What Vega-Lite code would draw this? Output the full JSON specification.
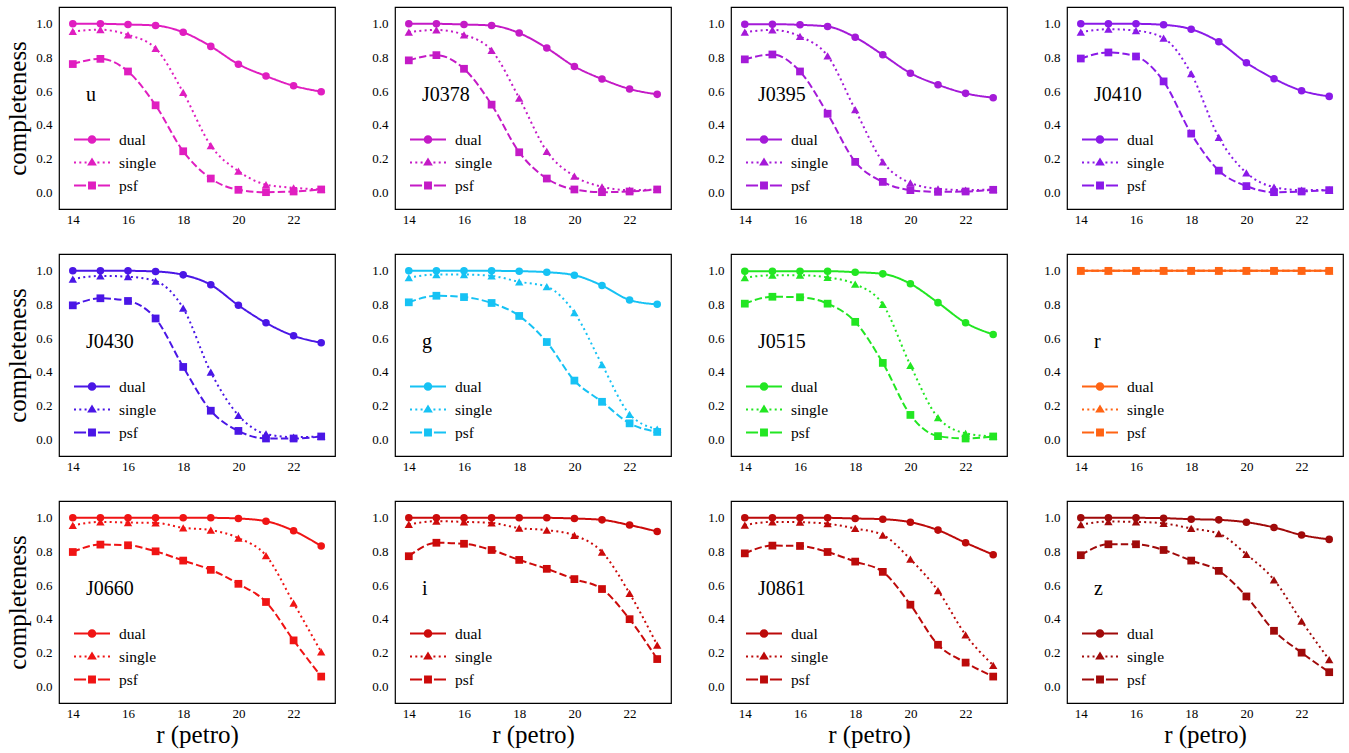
{
  "$schema": "https://vega.github.io/schema/vega-lite/v6.json",
  "padding": {"left": 5, "top": 5, "right": 5, "bottom": 5},
  "background": "white",
  "datasets": {
    "completeness": [
      {"band": "u", "type": "dual", "r": [14,15,16,17,18,19,20,21,22,23], "c": [1.0, 1.0, 0.996, 0.99, 0.95, 0.866, 0.76, 0.69, 0.632, 0.597]},
      {"band": "u", "type": "single", "r": [14,15,16,17,18,19,20,21,22,23], "c": [0.955, 0.965, 0.935, 0.854, 0.593, 0.277, 0.125, 0.045, 0.026, 0.016]},
      {"band": "u", "type": "psf", "r": [14,15,16,17,18,19,20,21,22,23], "c": [0.761, 0.792, 0.717, 0.516, 0.243, 0.081, 0.014, 0.0, 0.004, 0.016]},
      {"band": "J0378", "type": "dual", "r": [14,15,16,17,18,19,20,21,22,23], "c": [1.0, 1.0, 0.996, 0.99, 0.945, 0.856, 0.747, 0.672, 0.613, 0.581]},
      {"band": "J0378", "type": "single", "r": [14,15,16,17,18,19,20,21,22,23], "c": [0.951, 0.964, 0.935, 0.842, 0.559, 0.243, 0.095, 0.032, 0.012, 0.016]},
      {"band": "J0378", "type": "psf", "r": [14,15,16,17,18,19,20,21,22,23], "c": [0.783, 0.814, 0.733, 0.52, 0.237, 0.081, 0.016, 0.0, 0.004, 0.016]},
      {"band": "J0395", "type": "dual", "r": [14,15,16,17,18,19,20,21,22,23], "c": [0.998, 0.998, 0.994, 0.984, 0.92, 0.816, 0.707, 0.638, 0.587, 0.561]},
      {"band": "J0395", "type": "single", "r": [14,15,16,17,18,19,20,21,22,23], "c": [0.951, 0.964, 0.925, 0.81, 0.49, 0.18, 0.055, 0.02, 0.012, 0.016]},
      {"band": "J0395", "type": "psf", "r": [14,15,16,17,18,19,20,21,22,23], "c": [0.789, 0.818, 0.717, 0.466, 0.18, 0.061, 0.012, 0.002, 0.004, 0.014]},
      {"band": "J0410", "type": "dual", "r": [14,15,16,17,18,19,20,21,22,23], "c": [1.0, 1.0, 1.0, 0.994, 0.968, 0.893, 0.769, 0.674, 0.603, 0.569]},
      {"band": "J0410", "type": "single", "r": [14,15,16,17,18,19,20,21,22,23], "c": [0.951, 0.968, 0.96, 0.915, 0.704, 0.326, 0.115, 0.03, 0.012, 0.014]},
      {"band": "J0410", "type": "psf", "r": [14,15,16,17,18,19,20,21,22,23], "c": [0.794, 0.83, 0.806, 0.658, 0.348, 0.128, 0.036, 0.0, 0.004, 0.012]},
      {"band": "J0430", "type": "dual", "r": [14,15,16,17,18,19,20,21,22,23], "c": [1.0, 1.0, 1.0, 0.996, 0.976, 0.917, 0.795, 0.691, 0.614, 0.573]},
      {"band": "J0430", "type": "single", "r": [14,15,16,17,18,19,20,21,22,23], "c": [0.951, 0.97, 0.965, 0.939, 0.778, 0.398, 0.142, 0.031, 0.012, 0.016]},
      {"band": "J0430", "type": "psf", "r": [14,15,16,17,18,19,20,21,22,23], "c": [0.795, 0.837, 0.821, 0.717, 0.429, 0.169, 0.049, 0.004, 0.004, 0.016]},
      {"band": "g", "type": "dual", "r": [14,15,16,17,18,19,20,21,22,23], "c": [1.0, 1.0, 1.0, 1.0, 0.998, 0.992, 0.974, 0.913, 0.827, 0.801]},
      {"band": "g", "type": "single", "r": [14,15,16,17,18,19,20,21,22,23], "c": [0.959, 0.978, 0.978, 0.97, 0.935, 0.906, 0.752, 0.443, 0.148, 0.059]},
      {"band": "g", "type": "psf", "r": [14,15,16,17,18,19,20,21,22,23], "c": [0.813, 0.852, 0.844, 0.809, 0.732, 0.577, 0.348, 0.222, 0.094, 0.043]},
      {"band": "J0515", "type": "dual", "r": [14,15,16,17,18,19,20,21,22,23], "c": [0.998, 0.998, 0.998, 0.998, 0.992, 0.982, 0.923, 0.811, 0.691, 0.622]},
      {"band": "J0515", "type": "single", "r": [14,15,16,17,18,19,20,21,22,23], "c": [0.959, 0.974, 0.974, 0.961, 0.921, 0.801, 0.439, 0.128, 0.035, 0.016]},
      {"band": "J0515", "type": "psf", "r": [14,15,16,17,18,19,20,21,22,23], "c": [0.805, 0.846, 0.843, 0.805, 0.697, 0.453, 0.144, 0.018, 0.004, 0.016]},
      {"band": "r", "type": "dual", "r": [14,15,16,17,18,19,20,21,22,23], "c": [1.0, 1.0, 1.0, 1.0, 1.0, 1.0, 1.0, 1.0, 1.0, 1.0]},
      {"band": "r", "type": "single", "r": [14,15,16,17,18,19,20,21,22,23], "c": [1.0, 1.0, 1.0, 1.0, 1.0, 1.0, 1.0, 1.0, 1.0, 1.0]},
      {"band": "r", "type": "psf", "r": [14,15,16,17,18,19,20,21,22,23], "c": [1.0, 1.0, 1.0, 1.0, 1.0, 1.0, 1.0, 1.0, 1.0, 1.0]},
      {"band": "J0660", "type": "dual", "r": [14,15,16,17,18,19,20,21,22,23], "c": [1.0, 1.0, 1.0, 1.0, 1.0, 1.0, 0.996, 0.98, 0.923, 0.833]},
      {"band": "J0660", "type": "single", "r": [14,15,16,17,18,19,20,21,22,23], "c": [0.955, 0.976, 0.972, 0.97, 0.941, 0.927, 0.88, 0.776, 0.494, 0.203]},
      {"band": "J0660", "type": "psf", "r": [14,15,16,17,18,19,20,21,22,23], "c": [0.797, 0.841, 0.837, 0.801, 0.746, 0.691, 0.608, 0.5, 0.272, 0.057]},
      {"band": "i", "type": "dual", "r": [14,15,16,17,18,19,20,21,22,23], "c": [1.0, 1.0, 1.0, 1.0, 1.0, 1.0, 0.996, 0.988, 0.957, 0.919]},
      {"band": "i", "type": "single", "r": [14,15,16,17,18,19,20,21,22,23], "c": [0.961, 0.98, 0.976, 0.97, 0.939, 0.927, 0.896, 0.797, 0.551, 0.244]},
      {"band": "i", "type": "psf", "r": [14,15,16,17,18,19,20,21,22,23], "c": [0.772, 0.852, 0.846, 0.809, 0.75, 0.697, 0.636, 0.577, 0.398, 0.161]},
      {"band": "J0861", "type": "dual", "r": [14,15,16,17,18,19,20,21,22,23], "c": [1.0, 1.0, 1.0, 1.0, 0.996, 0.992, 0.974, 0.927, 0.852, 0.781]},
      {"band": "J0861", "type": "single", "r": [14,15,16,17,18,19,20,21,22,23], "c": [0.957, 0.976, 0.974, 0.965, 0.937, 0.898, 0.754, 0.567, 0.305, 0.124]},
      {"band": "J0861", "type": "psf", "r": [14,15,16,17,18,19,20,21,22,23], "c": [0.789, 0.835, 0.833, 0.797, 0.74, 0.679, 0.484, 0.246, 0.14, 0.057]},
      {"band": "z", "type": "dual", "r": [14,15,16,17,18,19,20,21,22,23], "c": [1.0, 1.0, 1.0, 0.998, 0.992, 0.988, 0.974, 0.943, 0.898, 0.872]},
      {"band": "z", "type": "single", "r": [14,15,16,17,18,19,20,21,22,23], "c": [0.959, 0.978, 0.976, 0.967, 0.937, 0.906, 0.783, 0.632, 0.386, 0.157]},
      {"band": "z", "type": "psf", "r": [14,15,16,17,18,19,20,21,22,23], "c": [0.778, 0.843, 0.843, 0.809, 0.746, 0.685, 0.533, 0.329, 0.199, 0.083]}
    ]
  },
  "data": {"name": "completeness"},
  "spacing": 25,
  "resolve": {"scale": {"strokeDash": "independent", "shape": "independent"}},
  "vconcat": [
    {
      "spacing": 31,
      "resolve": {"scale": {"strokeDash": "independent", "shape": "independent"}},
      "hconcat": [
        {"width": 276, "height": 202, "title": "u",
         "transform": [{"filter": "datum.band === 'u'"}, {"flatten": ["r", "c"]}],
         "layer": [
          {"mark": {"type": "line", "color": "#e01ec0", "strokeWidth": 2, "interpolate": "monotone"},
           "encoding": {
            "x": {"field": "r", "type": "quantitative", "scale": {"domain": [13.5, 23.5], "nice": false, "zero": false},
                  "axis": {"orient": "bottom", "title": null, "values": [14,14.5,15,15.5,16,16.5,17,17.5,18,18.5,19,19.5,20,20.5,21,21.5,22,22.5,23], "labelExpr": "datum.value % 2 === 0 ? format(datum.value, 'd') : ''", "encode": {"ticks": {"y2": {"value": {"expr": "datum.value % 2 === 0 ? -6 : -3"}}}}}},
            "y": {"field": "c", "type": "quantitative", "scale": {"domain": [-0.1, 1.1], "nice": false, "zero": false},
                  "axis": {"orient": "left", "title": "completeness", "values": [-0.05,0,0.05,0.1,0.15,0.2,0.25,0.3,0.35,0.4,0.45,0.5,0.55,0.6,0.65,0.7,0.75,0.8,0.85,0.9,0.95,1,1.05], "labelExpr": "abs(datum.value * 5 - round(datum.value * 5)) < 0.001 ? format(datum.value, '.1f') : ''", "encode": {"ticks": {"x2": {"value": {"expr": "abs(datum.value * 5 - round(datum.value * 5)) < 0.001 ? 6 : 3"}}}}}},
            "strokeDash": {"field": "type", "type": "nominal", "scale": {"domain": ["dual", "single", "psf"], "range": [[1, 0], [2, 3.3], [7.4, 3.2]]}, "legend": {"title": null, "symbolFillColor": "#e01ec0", "symbolStrokeColor": "#e01ec0"}}
           }},
          {"mark": {"type": "point", "filled": true, "opacity": 0, "size": 1296, "strokeWidth": 2, "color": "#e01ec0"},
           "encoding": {
            "x": {"field": "r", "type": "quantitative", "axis": null},
            "y": {"field": "c", "type": "quantitative", "axis": null},
            "shape": {"field": "type", "type": "nominal", "scale": {"domain": ["dual", "single", "psf"], "range": ["M-1,-0.056L-0.23,-0.056L-0.23,0.056L-1,0.056ZM0.23,-0.056L1,-0.056L1,0.056L0.23,0.056ZM0.24,0A0.24,0.24,0,1,1,-0.24,0A0.24,0.24,0,1,1,0.24,0Z", "M-1,-0.056L-0.889,-0.056L-0.889,0.056L-1,0.056ZM-0.706,-0.056L-0.595,-0.056L-0.595,0.056L-0.706,0.056ZM-0.412,-0.056L-0.301,-0.056L-0.301,0.056L-0.412,0.056ZM0.301,-0.056L0.412,-0.056L0.412,0.056L0.301,0.056ZM0.595,-0.056L0.706,-0.056L0.706,0.056L0.595,0.056ZM0.889,-0.056L1,-0.056L1,0.056L0.889,0.056ZM0,-0.28L0.27,0.17L-0.27,0.17Z", "M-1,-0.056L-0.33,-0.056L-0.33,0.056L-1,0.056ZM0.33,-0.056L1,-0.056L1,0.056L0.33,0.056ZM-0.22,-0.22L0.22,-0.22L0.22,0.22L-0.22,0.22Z"]}, "legend": {"title": null, "symbolFillColor": "#e01ec0", "symbolStrokeColor": "#e01ec0"}},
            "strokeDash": {"field": "type", "type": "nominal", "scale": {"domain": ["dual", "single", "psf"], "range": [[1, 0], [2, 3.3], [7.4, 3.2]]}, "legend": {"title": null, "symbolFillColor": "#e01ec0", "symbolStrokeColor": "#e01ec0"}}
           }},
          {"transform": [{"filter": "datum.type === 'dual'"}],
           "mark": {"type": "point", "shape": "circle", "filled": true, "opacity": 1, "size": 57, "color": "#e01ec0"},
           "encoding": {
            "x": {"field": "r", "type": "quantitative", "axis": {"orient": "top", "title": null, "labels": false, "values": [14,14.5,15,15.5,16,16.5,17,17.5,18,18.5,19,19.5,20,20.5,21,21.5,22,22.5,23], "encode": {"ticks": {"y2": {"value": {"expr": "datum.value % 2 === 0 ? 6 : 3"}}}}}},
            "y": {"field": "c", "type": "quantitative", "axis": {"orient": "right", "title": null, "labels": false, "values": [-0.05,0,0.05,0.1,0.15,0.2,0.25,0.3,0.35,0.4,0.45,0.5,0.55,0.6,0.65,0.7,0.75,0.8,0.85,0.9,0.95,1,1.05], "encode": {"ticks": {"x2": {"value": {"expr": "abs(datum.value * 5 - round(datum.value * 5)) < 0.001 ? -6 : -3"}}}}}}
           }},
          {"transform": [{"filter": "datum.type === 'single'"}],
           "mark": {"type": "point", "shape": "triangle-up", "filled": true, "opacity": 1, "size": 70, "color": "#e01ec0"},
           "encoding": {"x": {"field": "r", "type": "quantitative", "axis": null}, "y": {"field": "c", "type": "quantitative", "axis": null}}},
          {"transform": [{"filter": "datum.type === 'psf'"}],
           "mark": {"type": "point", "shape": "square", "filled": true, "opacity": 1, "size": 60, "color": "#e01ec0"},
           "encoding": {"x": {"field": "r", "type": "quantitative", "axis": null}, "y": {"field": "c", "type": "quantitative", "axis": null}}}
         ],
         "resolve": {"axis": {"x": "independent", "y": "independent"}}
        },
        {"width": 276, "height": 202, "title": "J0378",
         "transform": [{"filter": "datum.band === 'J0378'"}, {"flatten": ["r", "c"]}],
         "layer": [
          {"mark": {"type": "line", "color": "#c41ac6", "strokeWidth": 2, "interpolate": "monotone"},
           "encoding": {
            "x": {"field": "r", "type": "quantitative", "scale": {"domain": [13.5, 23.5], "nice": false, "zero": false},
                  "axis": {"orient": "bottom", "title": null, "values": [14,14.5,15,15.5,16,16.5,17,17.5,18,18.5,19,19.5,20,20.5,21,21.5,22,22.5,23], "labelExpr": "datum.value % 2 === 0 ? format(datum.value, 'd') : ''", "encode": {"ticks": {"y2": {"value": {"expr": "datum.value % 2 === 0 ? -6 : -3"}}}}}},
            "y": {"field": "c", "type": "quantitative", "scale": {"domain": [-0.1, 1.1], "nice": false, "zero": false},
                  "axis": {"orient": "left", "title": null, "values": [-0.05,0,0.05,0.1,0.15,0.2,0.25,0.3,0.35,0.4,0.45,0.5,0.55,0.6,0.65,0.7,0.75,0.8,0.85,0.9,0.95,1,1.05], "labelExpr": "abs(datum.value * 5 - round(datum.value * 5)) < 0.001 ? format(datum.value, '.1f') : ''", "encode": {"ticks": {"x2": {"value": {"expr": "abs(datum.value * 5 - round(datum.value * 5)) < 0.001 ? 6 : 3"}}}}}},
            "strokeDash": {"field": "type", "type": "nominal", "scale": {"domain": ["dual", "single", "psf"], "range": [[1, 0], [2, 3.3], [7.4, 3.2]]}, "legend": {"title": null, "symbolFillColor": "#c41ac6", "symbolStrokeColor": "#c41ac6"}}
           }},
          {"mark": {"type": "point", "filled": true, "opacity": 0, "size": 1296, "strokeWidth": 2, "color": "#c41ac6"},
           "encoding": {
            "x": {"field": "r", "type": "quantitative", "axis": null},
            "y": {"field": "c", "type": "quantitative", "axis": null},
            "shape": {"field": "type", "type": "nominal", "scale": {"domain": ["dual", "single", "psf"], "range": ["M-1,-0.056L-0.23,-0.056L-0.23,0.056L-1,0.056ZM0.23,-0.056L1,-0.056L1,0.056L0.23,0.056ZM0.24,0A0.24,0.24,0,1,1,-0.24,0A0.24,0.24,0,1,1,0.24,0Z", "M-1,-0.056L-0.889,-0.056L-0.889,0.056L-1,0.056ZM-0.706,-0.056L-0.595,-0.056L-0.595,0.056L-0.706,0.056ZM-0.412,-0.056L-0.301,-0.056L-0.301,0.056L-0.412,0.056ZM0.301,-0.056L0.412,-0.056L0.412,0.056L0.301,0.056ZM0.595,-0.056L0.706,-0.056L0.706,0.056L0.595,0.056ZM0.889,-0.056L1,-0.056L1,0.056L0.889,0.056ZM0,-0.28L0.27,0.17L-0.27,0.17Z", "M-1,-0.056L-0.33,-0.056L-0.33,0.056L-1,0.056ZM0.33,-0.056L1,-0.056L1,0.056L0.33,0.056ZM-0.22,-0.22L0.22,-0.22L0.22,0.22L-0.22,0.22Z"]}, "legend": {"title": null, "symbolFillColor": "#c41ac6", "symbolStrokeColor": "#c41ac6"}},
            "strokeDash": {"field": "type", "type": "nominal", "scale": {"domain": ["dual", "single", "psf"], "range": [[1, 0], [2, 3.3], [7.4, 3.2]]}, "legend": {"title": null, "symbolFillColor": "#c41ac6", "symbolStrokeColor": "#c41ac6"}}
           }},
          {"transform": [{"filter": "datum.type === 'dual'"}],
           "mark": {"type": "point", "shape": "circle", "filled": true, "opacity": 1, "size": 57, "color": "#c41ac6"},
           "encoding": {
            "x": {"field": "r", "type": "quantitative", "axis": {"orient": "top", "title": null, "labels": false, "values": [14,14.5,15,15.5,16,16.5,17,17.5,18,18.5,19,19.5,20,20.5,21,21.5,22,22.5,23], "encode": {"ticks": {"y2": {"value": {"expr": "datum.value % 2 === 0 ? 6 : 3"}}}}}},
            "y": {"field": "c", "type": "quantitative", "axis": {"orient": "right", "title": null, "labels": false, "values": [-0.05,0,0.05,0.1,0.15,0.2,0.25,0.3,0.35,0.4,0.45,0.5,0.55,0.6,0.65,0.7,0.75,0.8,0.85,0.9,0.95,1,1.05], "encode": {"ticks": {"x2": {"value": {"expr": "abs(datum.value * 5 - round(datum.value * 5)) < 0.001 ? -6 : -3"}}}}}}
           }},
          {"transform": [{"filter": "datum.type === 'single'"}],
           "mark": {"type": "point", "shape": "triangle-up", "filled": true, "opacity": 1, "size": 70, "color": "#c41ac6"},
           "encoding": {"x": {"field": "r", "type": "quantitative", "axis": null}, "y": {"field": "c", "type": "quantitative", "axis": null}}},
          {"transform": [{"filter": "datum.type === 'psf'"}],
           "mark": {"type": "point", "shape": "square", "filled": true, "opacity": 1, "size": 60, "color": "#c41ac6"},
           "encoding": {"x": {"field": "r", "type": "quantitative", "axis": null}, "y": {"field": "c", "type": "quantitative", "axis": null}}}
         ],
         "resolve": {"axis": {"x": "independent", "y": "independent"}}
        },
        {"width": 276, "height": 202, "title": "J0395",
         "transform": [{"filter": "datum.band === 'J0395'"}, {"flatten": ["r", "c"]}],
         "layer": [
          {"mark": {"type": "line", "color": "#a41ad8", "strokeWidth": 2, "interpolate": "monotone"},
           "encoding": {
            "x": {"field": "r", "type": "quantitative", "scale": {"domain": [13.5, 23.5], "nice": false, "zero": false},
                  "axis": {"orient": "bottom", "title": null, "values": [14,14.5,15,15.5,16,16.5,17,17.5,18,18.5,19,19.5,20,20.5,21,21.5,22,22.5,23], "labelExpr": "datum.value % 2 === 0 ? format(datum.value, 'd') : ''", "encode": {"ticks": {"y2": {"value": {"expr": "datum.value % 2 === 0 ? -6 : -3"}}}}}},
            "y": {"field": "c", "type": "quantitative", "scale": {"domain": [-0.1, 1.1], "nice": false, "zero": false},
                  "axis": {"orient": "left", "title": null, "values": [-0.05,0,0.05,0.1,0.15,0.2,0.25,0.3,0.35,0.4,0.45,0.5,0.55,0.6,0.65,0.7,0.75,0.8,0.85,0.9,0.95,1,1.05], "labelExpr": "abs(datum.value * 5 - round(datum.value * 5)) < 0.001 ? format(datum.value, '.1f') : ''", "encode": {"ticks": {"x2": {"value": {"expr": "abs(datum.value * 5 - round(datum.value * 5)) < 0.001 ? 6 : 3"}}}}}},
            "strokeDash": {"field": "type", "type": "nominal", "scale": {"domain": ["dual", "single", "psf"], "range": [[1, 0], [2, 3.3], [7.4, 3.2]]}, "legend": {"title": null, "symbolFillColor": "#a41ad8", "symbolStrokeColor": "#a41ad8"}}
           }},
          {"mark": {"type": "point", "filled": true, "opacity": 0, "size": 1296, "strokeWidth": 2, "color": "#a41ad8"},
           "encoding": {
            "x": {"field": "r", "type": "quantitative", "axis": null},
            "y": {"field": "c", "type": "quantitative", "axis": null},
            "shape": {"field": "type", "type": "nominal", "scale": {"domain": ["dual", "single", "psf"], "range": ["M-1,-0.056L-0.23,-0.056L-0.23,0.056L-1,0.056ZM0.23,-0.056L1,-0.056L1,0.056L0.23,0.056ZM0.24,0A0.24,0.24,0,1,1,-0.24,0A0.24,0.24,0,1,1,0.24,0Z", "M-1,-0.056L-0.889,-0.056L-0.889,0.056L-1,0.056ZM-0.706,-0.056L-0.595,-0.056L-0.595,0.056L-0.706,0.056ZM-0.412,-0.056L-0.301,-0.056L-0.301,0.056L-0.412,0.056ZM0.301,-0.056L0.412,-0.056L0.412,0.056L0.301,0.056ZM0.595,-0.056L0.706,-0.056L0.706,0.056L0.595,0.056ZM0.889,-0.056L1,-0.056L1,0.056L0.889,0.056ZM0,-0.28L0.27,0.17L-0.27,0.17Z", "M-1,-0.056L-0.33,-0.056L-0.33,0.056L-1,0.056ZM0.33,-0.056L1,-0.056L1,0.056L0.33,0.056ZM-0.22,-0.22L0.22,-0.22L0.22,0.22L-0.22,0.22Z"]}, "legend": {"title": null, "symbolFillColor": "#a41ad8", "symbolStrokeColor": "#a41ad8"}},
            "strokeDash": {"field": "type", "type": "nominal", "scale": {"domain": ["dual", "single", "psf"], "range": [[1, 0], [2, 3.3], [7.4, 3.2]]}, "legend": {"title": null, "symbolFillColor": "#a41ad8", "symbolStrokeColor": "#a41ad8"}}
           }},
          {"transform": [{"filter": "datum.type === 'dual'"}],
           "mark": {"type": "point", "shape": "circle", "filled": true, "opacity": 1, "size": 57, "color": "#a41ad8"},
           "encoding": {
            "x": {"field": "r", "type": "quantitative", "axis": {"orient": "top", "title": null, "labels": false, "values": [14,14.5,15,15.5,16,16.5,17,17.5,18,18.5,19,19.5,20,20.5,21,21.5,22,22.5,23], "encode": {"ticks": {"y2": {"value": {"expr": "datum.value % 2 === 0 ? 6 : 3"}}}}}},
            "y": {"field": "c", "type": "quantitative", "axis": {"orient": "right", "title": null, "labels": false, "values": [-0.05,0,0.05,0.1,0.15,0.2,0.25,0.3,0.35,0.4,0.45,0.5,0.55,0.6,0.65,0.7,0.75,0.8,0.85,0.9,0.95,1,1.05], "encode": {"ticks": {"x2": {"value": {"expr": "abs(datum.value * 5 - round(datum.value * 5)) < 0.001 ? -6 : -3"}}}}}}
           }},
          {"transform": [{"filter": "datum.type === 'single'"}],
           "mark": {"type": "point", "shape": "triangle-up", "filled": true, "opacity": 1, "size": 70, "color": "#a41ad8"},
           "encoding": {"x": {"field": "r", "type": "quantitative", "axis": null}, "y": {"field": "c", "type": "quantitative", "axis": null}}},
          {"transform": [{"filter": "datum.type === 'psf'"}],
           "mark": {"type": "point", "shape": "square", "filled": true, "opacity": 1, "size": 60, "color": "#a41ad8"},
           "encoding": {"x": {"field": "r", "type": "quantitative", "axis": null}, "y": {"field": "c", "type": "quantitative", "axis": null}}}
         ],
         "resolve": {"axis": {"x": "independent", "y": "independent"}}
        },
        {"width": 276, "height": 202, "title": "J0410",
         "transform": [{"filter": "datum.band === 'J0410'"}, {"flatten": ["r", "c"]}],
         "layer": [
          {"mark": {"type": "line", "color": "#8a1ae8", "strokeWidth": 2, "interpolate": "monotone"},
           "encoding": {
            "x": {"field": "r", "type": "quantitative", "scale": {"domain": [13.5, 23.5], "nice": false, "zero": false},
                  "axis": {"orient": "bottom", "title": null, "values": [14,14.5,15,15.5,16,16.5,17,17.5,18,18.5,19,19.5,20,20.5,21,21.5,22,22.5,23], "labelExpr": "datum.value % 2 === 0 ? format(datum.value, 'd') : ''", "encode": {"ticks": {"y2": {"value": {"expr": "datum.value % 2 === 0 ? -6 : -3"}}}}}},
            "y": {"field": "c", "type": "quantitative", "scale": {"domain": [-0.1, 1.1], "nice": false, "zero": false},
                  "axis": {"orient": "left", "title": null, "values": [-0.05,0,0.05,0.1,0.15,0.2,0.25,0.3,0.35,0.4,0.45,0.5,0.55,0.6,0.65,0.7,0.75,0.8,0.85,0.9,0.95,1,1.05], "labelExpr": "abs(datum.value * 5 - round(datum.value * 5)) < 0.001 ? format(datum.value, '.1f') : ''", "encode": {"ticks": {"x2": {"value": {"expr": "abs(datum.value * 5 - round(datum.value * 5)) < 0.001 ? 6 : 3"}}}}}},
            "strokeDash": {"field": "type", "type": "nominal", "scale": {"domain": ["dual", "single", "psf"], "range": [[1, 0], [2, 3.3], [7.4, 3.2]]}, "legend": {"title": null, "symbolFillColor": "#8a1ae8", "symbolStrokeColor": "#8a1ae8"}}
           }},
          {"mark": {"type": "point", "filled": true, "opacity": 0, "size": 1296, "strokeWidth": 2, "color": "#8a1ae8"},
           "encoding": {
            "x": {"field": "r", "type": "quantitative", "axis": null},
            "y": {"field": "c", "type": "quantitative", "axis": null},
            "shape": {"field": "type", "type": "nominal", "scale": {"domain": ["dual", "single", "psf"], "range": ["M-1,-0.056L-0.23,-0.056L-0.23,0.056L-1,0.056ZM0.23,-0.056L1,-0.056L1,0.056L0.23,0.056ZM0.24,0A0.24,0.24,0,1,1,-0.24,0A0.24,0.24,0,1,1,0.24,0Z", "M-1,-0.056L-0.889,-0.056L-0.889,0.056L-1,0.056ZM-0.706,-0.056L-0.595,-0.056L-0.595,0.056L-0.706,0.056ZM-0.412,-0.056L-0.301,-0.056L-0.301,0.056L-0.412,0.056ZM0.301,-0.056L0.412,-0.056L0.412,0.056L0.301,0.056ZM0.595,-0.056L0.706,-0.056L0.706,0.056L0.595,0.056ZM0.889,-0.056L1,-0.056L1,0.056L0.889,0.056ZM0,-0.28L0.27,0.17L-0.27,0.17Z", "M-1,-0.056L-0.33,-0.056L-0.33,0.056L-1,0.056ZM0.33,-0.056L1,-0.056L1,0.056L0.33,0.056ZM-0.22,-0.22L0.22,-0.22L0.22,0.22L-0.22,0.22Z"]}, "legend": {"title": null, "symbolFillColor": "#8a1ae8", "symbolStrokeColor": "#8a1ae8"}},
            "strokeDash": {"field": "type", "type": "nominal", "scale": {"domain": ["dual", "single", "psf"], "range": [[1, 0], [2, 3.3], [7.4, 3.2]]}, "legend": {"title": null, "symbolFillColor": "#8a1ae8", "symbolStrokeColor": "#8a1ae8"}}
           }},
          {"transform": [{"filter": "datum.type === 'dual'"}],
           "mark": {"type": "point", "shape": "circle", "filled": true, "opacity": 1, "size": 57, "color": "#8a1ae8"},
           "encoding": {
            "x": {"field": "r", "type": "quantitative", "axis": {"orient": "top", "title": null, "labels": false, "values": [14,14.5,15,15.5,16,16.5,17,17.5,18,18.5,19,19.5,20,20.5,21,21.5,22,22.5,23], "encode": {"ticks": {"y2": {"value": {"expr": "datum.value % 2 === 0 ? 6 : 3"}}}}}},
            "y": {"field": "c", "type": "quantitative", "axis": {"orient": "right", "title": null, "labels": false, "values": [-0.05,0,0.05,0.1,0.15,0.2,0.25,0.3,0.35,0.4,0.45,0.5,0.55,0.6,0.65,0.7,0.75,0.8,0.85,0.9,0.95,1,1.05], "encode": {"ticks": {"x2": {"value": {"expr": "abs(datum.value * 5 - round(datum.value * 5)) < 0.001 ? -6 : -3"}}}}}}
           }},
          {"transform": [{"filter": "datum.type === 'single'"}],
           "mark": {"type": "point", "shape": "triangle-up", "filled": true, "opacity": 1, "size": 70, "color": "#8a1ae8"},
           "encoding": {"x": {"field": "r", "type": "quantitative", "axis": null}, "y": {"field": "c", "type": "quantitative", "axis": null}}},
          {"transform": [{"filter": "datum.type === 'psf'"}],
           "mark": {"type": "point", "shape": "square", "filled": true, "opacity": 1, "size": 60, "color": "#8a1ae8"},
           "encoding": {"x": {"field": "r", "type": "quantitative", "axis": null}, "y": {"field": "c", "type": "quantitative", "axis": null}}}
         ],
         "resolve": {"axis": {"x": "independent", "y": "independent"}}
        }
      ]
    },
    {
      "spacing": 31,
      "resolve": {"scale": {"strokeDash": "independent", "shape": "independent"}},
      "hconcat": [
        {"width": 276, "height": 202, "title": "J0430",
         "transform": [{"filter": "datum.band === 'J0430'"}, {"flatten": ["r", "c"]}],
         "layer": [
          {"mark": {"type": "line", "color": "#4a16e6", "strokeWidth": 2, "interpolate": "monotone"},
           "encoding": {
            "x": {"field": "r", "type": "quantitative", "scale": {"domain": [13.5, 23.5], "nice": false, "zero": false},
                  "axis": {"orient": "bottom", "title": null, "values": [14,14.5,15,15.5,16,16.5,17,17.5,18,18.5,19,19.5,20,20.5,21,21.5,22,22.5,23], "labelExpr": "datum.value % 2 === 0 ? format(datum.value, 'd') : ''", "encode": {"ticks": {"y2": {"value": {"expr": "datum.value % 2 === 0 ? -6 : -3"}}}}}},
            "y": {"field": "c", "type": "quantitative", "scale": {"domain": [-0.1, 1.1], "nice": false, "zero": false},
                  "axis": {"orient": "left", "title": "completeness", "values": [-0.05,0,0.05,0.1,0.15,0.2,0.25,0.3,0.35,0.4,0.45,0.5,0.55,0.6,0.65,0.7,0.75,0.8,0.85,0.9,0.95,1,1.05], "labelExpr": "abs(datum.value * 5 - round(datum.value * 5)) < 0.001 ? format(datum.value, '.1f') : ''", "encode": {"ticks": {"x2": {"value": {"expr": "abs(datum.value * 5 - round(datum.value * 5)) < 0.001 ? 6 : 3"}}}}}},
            "strokeDash": {"field": "type", "type": "nominal", "scale": {"domain": ["dual", "single", "psf"], "range": [[1, 0], [2, 3.3], [7.4, 3.2]]}, "legend": {"title": null, "symbolFillColor": "#4a16e6", "symbolStrokeColor": "#4a16e6"}}
           }},
          {"mark": {"type": "point", "filled": true, "opacity": 0, "size": 1296, "strokeWidth": 2, "color": "#4a16e6"},
           "encoding": {
            "x": {"field": "r", "type": "quantitative", "axis": null},
            "y": {"field": "c", "type": "quantitative", "axis": null},
            "shape": {"field": "type", "type": "nominal", "scale": {"domain": ["dual", "single", "psf"], "range": ["M-1,-0.056L-0.23,-0.056L-0.23,0.056L-1,0.056ZM0.23,-0.056L1,-0.056L1,0.056L0.23,0.056ZM0.24,0A0.24,0.24,0,1,1,-0.24,0A0.24,0.24,0,1,1,0.24,0Z", "M-1,-0.056L-0.889,-0.056L-0.889,0.056L-1,0.056ZM-0.706,-0.056L-0.595,-0.056L-0.595,0.056L-0.706,0.056ZM-0.412,-0.056L-0.301,-0.056L-0.301,0.056L-0.412,0.056ZM0.301,-0.056L0.412,-0.056L0.412,0.056L0.301,0.056ZM0.595,-0.056L0.706,-0.056L0.706,0.056L0.595,0.056ZM0.889,-0.056L1,-0.056L1,0.056L0.889,0.056ZM0,-0.28L0.27,0.17L-0.27,0.17Z", "M-1,-0.056L-0.33,-0.056L-0.33,0.056L-1,0.056ZM0.33,-0.056L1,-0.056L1,0.056L0.33,0.056ZM-0.22,-0.22L0.22,-0.22L0.22,0.22L-0.22,0.22Z"]}, "legend": {"title": null, "symbolFillColor": "#4a16e6", "symbolStrokeColor": "#4a16e6"}},
            "strokeDash": {"field": "type", "type": "nominal", "scale": {"domain": ["dual", "single", "psf"], "range": [[1, 0], [2, 3.3], [7.4, 3.2]]}, "legend": {"title": null, "symbolFillColor": "#4a16e6", "symbolStrokeColor": "#4a16e6"}}
           }},
          {"transform": [{"filter": "datum.type === 'dual'"}],
           "mark": {"type": "point", "shape": "circle", "filled": true, "opacity": 1, "size": 57, "color": "#4a16e6"},
           "encoding": {
            "x": {"field": "r", "type": "quantitative", "axis": {"orient": "top", "title": null, "labels": false, "values": [14,14.5,15,15.5,16,16.5,17,17.5,18,18.5,19,19.5,20,20.5,21,21.5,22,22.5,23], "encode": {"ticks": {"y2": {"value": {"expr": "datum.value % 2 === 0 ? 6 : 3"}}}}}},
            "y": {"field": "c", "type": "quantitative", "axis": {"orient": "right", "title": null, "labels": false, "values": [-0.05,0,0.05,0.1,0.15,0.2,0.25,0.3,0.35,0.4,0.45,0.5,0.55,0.6,0.65,0.7,0.75,0.8,0.85,0.9,0.95,1,1.05], "encode": {"ticks": {"x2": {"value": {"expr": "abs(datum.value * 5 - round(datum.value * 5)) < 0.001 ? -6 : -3"}}}}}}
           }},
          {"transform": [{"filter": "datum.type === 'single'"}],
           "mark": {"type": "point", "shape": "triangle-up", "filled": true, "opacity": 1, "size": 70, "color": "#4a16e6"},
           "encoding": {"x": {"field": "r", "type": "quantitative", "axis": null}, "y": {"field": "c", "type": "quantitative", "axis": null}}},
          {"transform": [{"filter": "datum.type === 'psf'"}],
           "mark": {"type": "point", "shape": "square", "filled": true, "opacity": 1, "size": 60, "color": "#4a16e6"},
           "encoding": {"x": {"field": "r", "type": "quantitative", "axis": null}, "y": {"field": "c", "type": "quantitative", "axis": null}}}
         ],
         "resolve": {"axis": {"x": "independent", "y": "independent"}}
        },
        {"width": 276, "height": 202, "title": "g",
         "transform": [{"filter": "datum.band === 'g'"}, {"flatten": ["r", "c"]}],
         "layer": [
          {"mark": {"type": "line", "color": "#16c2f4", "strokeWidth": 2, "interpolate": "monotone"},
           "encoding": {
            "x": {"field": "r", "type": "quantitative", "scale": {"domain": [13.5, 23.5], "nice": false, "zero": false},
                  "axis": {"orient": "bottom", "title": null, "values": [14,14.5,15,15.5,16,16.5,17,17.5,18,18.5,19,19.5,20,20.5,21,21.5,22,22.5,23], "labelExpr": "datum.value % 2 === 0 ? format(datum.value, 'd') : ''", "encode": {"ticks": {"y2": {"value": {"expr": "datum.value % 2 === 0 ? -6 : -3"}}}}}},
            "y": {"field": "c", "type": "quantitative", "scale": {"domain": [-0.1, 1.1], "nice": false, "zero": false},
                  "axis": {"orient": "left", "title": null, "values": [-0.05,0,0.05,0.1,0.15,0.2,0.25,0.3,0.35,0.4,0.45,0.5,0.55,0.6,0.65,0.7,0.75,0.8,0.85,0.9,0.95,1,1.05], "labelExpr": "abs(datum.value * 5 - round(datum.value * 5)) < 0.001 ? format(datum.value, '.1f') : ''", "encode": {"ticks": {"x2": {"value": {"expr": "abs(datum.value * 5 - round(datum.value * 5)) < 0.001 ? 6 : 3"}}}}}},
            "strokeDash": {"field": "type", "type": "nominal", "scale": {"domain": ["dual", "single", "psf"], "range": [[1, 0], [2, 3.3], [7.4, 3.2]]}, "legend": {"title": null, "symbolFillColor": "#16c2f4", "symbolStrokeColor": "#16c2f4"}}
           }},
          {"mark": {"type": "point", "filled": true, "opacity": 0, "size": 1296, "strokeWidth": 2, "color": "#16c2f4"},
           "encoding": {
            "x": {"field": "r", "type": "quantitative", "axis": null},
            "y": {"field": "c", "type": "quantitative", "axis": null},
            "shape": {"field": "type", "type": "nominal", "scale": {"domain": ["dual", "single", "psf"], "range": ["M-1,-0.056L-0.23,-0.056L-0.23,0.056L-1,0.056ZM0.23,-0.056L1,-0.056L1,0.056L0.23,0.056ZM0.24,0A0.24,0.24,0,1,1,-0.24,0A0.24,0.24,0,1,1,0.24,0Z", "M-1,-0.056L-0.889,-0.056L-0.889,0.056L-1,0.056ZM-0.706,-0.056L-0.595,-0.056L-0.595,0.056L-0.706,0.056ZM-0.412,-0.056L-0.301,-0.056L-0.301,0.056L-0.412,0.056ZM0.301,-0.056L0.412,-0.056L0.412,0.056L0.301,0.056ZM0.595,-0.056L0.706,-0.056L0.706,0.056L0.595,0.056ZM0.889,-0.056L1,-0.056L1,0.056L0.889,0.056ZM0,-0.28L0.27,0.17L-0.27,0.17Z", "M-1,-0.056L-0.33,-0.056L-0.33,0.056L-1,0.056ZM0.33,-0.056L1,-0.056L1,0.056L0.33,0.056ZM-0.22,-0.22L0.22,-0.22L0.22,0.22L-0.22,0.22Z"]}, "legend": {"title": null, "symbolFillColor": "#16c2f4", "symbolStrokeColor": "#16c2f4"}},
            "strokeDash": {"field": "type", "type": "nominal", "scale": {"domain": ["dual", "single", "psf"], "range": [[1, 0], [2, 3.3], [7.4, 3.2]]}, "legend": {"title": null, "symbolFillColor": "#16c2f4", "symbolStrokeColor": "#16c2f4"}}
           }},
          {"transform": [{"filter": "datum.type === 'dual'"}],
           "mark": {"type": "point", "shape": "circle", "filled": true, "opacity": 1, "size": 57, "color": "#16c2f4"},
           "encoding": {
            "x": {"field": "r", "type": "quantitative", "axis": {"orient": "top", "title": null, "labels": false, "values": [14,14.5,15,15.5,16,16.5,17,17.5,18,18.5,19,19.5,20,20.5,21,21.5,22,22.5,23], "encode": {"ticks": {"y2": {"value": {"expr": "datum.value % 2 === 0 ? 6 : 3"}}}}}},
            "y": {"field": "c", "type": "quantitative", "axis": {"orient": "right", "title": null, "labels": false, "values": [-0.05,0,0.05,0.1,0.15,0.2,0.25,0.3,0.35,0.4,0.45,0.5,0.55,0.6,0.65,0.7,0.75,0.8,0.85,0.9,0.95,1,1.05], "encode": {"ticks": {"x2": {"value": {"expr": "abs(datum.value * 5 - round(datum.value * 5)) < 0.001 ? -6 : -3"}}}}}}
           }},
          {"transform": [{"filter": "datum.type === 'single'"}],
           "mark": {"type": "point", "shape": "triangle-up", "filled": true, "opacity": 1, "size": 70, "color": "#16c2f4"},
           "encoding": {"x": {"field": "r", "type": "quantitative", "axis": null}, "y": {"field": "c", "type": "quantitative", "axis": null}}},
          {"transform": [{"filter": "datum.type === 'psf'"}],
           "mark": {"type": "point", "shape": "square", "filled": true, "opacity": 1, "size": 60, "color": "#16c2f4"},
           "encoding": {"x": {"field": "r", "type": "quantitative", "axis": null}, "y": {"field": "c", "type": "quantitative", "axis": null}}}
         ],
         "resolve": {"axis": {"x": "independent", "y": "independent"}}
        },
        {"width": 276, "height": 202, "title": "J0515",
         "transform": [{"filter": "datum.band === 'J0515'"}, {"flatten": ["r", "c"]}],
         "layer": [
          {"mark": {"type": "line", "color": "#22e622", "strokeWidth": 2, "interpolate": "monotone"},
           "encoding": {
            "x": {"field": "r", "type": "quantitative", "scale": {"domain": [13.5, 23.5], "nice": false, "zero": false},
                  "axis": {"orient": "bottom", "title": null, "values": [14,14.5,15,15.5,16,16.5,17,17.5,18,18.5,19,19.5,20,20.5,21,21.5,22,22.5,23], "labelExpr": "datum.value % 2 === 0 ? format(datum.value, 'd') : ''", "encode": {"ticks": {"y2": {"value": {"expr": "datum.value % 2 === 0 ? -6 : -3"}}}}}},
            "y": {"field": "c", "type": "quantitative", "scale": {"domain": [-0.1, 1.1], "nice": false, "zero": false},
                  "axis": {"orient": "left", "title": null, "values": [-0.05,0,0.05,0.1,0.15,0.2,0.25,0.3,0.35,0.4,0.45,0.5,0.55,0.6,0.65,0.7,0.75,0.8,0.85,0.9,0.95,1,1.05], "labelExpr": "abs(datum.value * 5 - round(datum.value * 5)) < 0.001 ? format(datum.value, '.1f') : ''", "encode": {"ticks": {"x2": {"value": {"expr": "abs(datum.value * 5 - round(datum.value * 5)) < 0.001 ? 6 : 3"}}}}}},
            "strokeDash": {"field": "type", "type": "nominal", "scale": {"domain": ["dual", "single", "psf"], "range": [[1, 0], [2, 3.3], [7.4, 3.2]]}, "legend": {"title": null, "symbolFillColor": "#22e622", "symbolStrokeColor": "#22e622"}}
           }},
          {"mark": {"type": "point", "filled": true, "opacity": 0, "size": 1296, "strokeWidth": 2, "color": "#22e622"},
           "encoding": {
            "x": {"field": "r", "type": "quantitative", "axis": null},
            "y": {"field": "c", "type": "quantitative", "axis": null},
            "shape": {"field": "type", "type": "nominal", "scale": {"domain": ["dual", "single", "psf"], "range": ["M-1,-0.056L-0.23,-0.056L-0.23,0.056L-1,0.056ZM0.23,-0.056L1,-0.056L1,0.056L0.23,0.056ZM0.24,0A0.24,0.24,0,1,1,-0.24,0A0.24,0.24,0,1,1,0.24,0Z", "M-1,-0.056L-0.889,-0.056L-0.889,0.056L-1,0.056ZM-0.706,-0.056L-0.595,-0.056L-0.595,0.056L-0.706,0.056ZM-0.412,-0.056L-0.301,-0.056L-0.301,0.056L-0.412,0.056ZM0.301,-0.056L0.412,-0.056L0.412,0.056L0.301,0.056ZM0.595,-0.056L0.706,-0.056L0.706,0.056L0.595,0.056ZM0.889,-0.056L1,-0.056L1,0.056L0.889,0.056ZM0,-0.28L0.27,0.17L-0.27,0.17Z", "M-1,-0.056L-0.33,-0.056L-0.33,0.056L-1,0.056ZM0.33,-0.056L1,-0.056L1,0.056L0.33,0.056ZM-0.22,-0.22L0.22,-0.22L0.22,0.22L-0.22,0.22Z"]}, "legend": {"title": null, "symbolFillColor": "#22e622", "symbolStrokeColor": "#22e622"}},
            "strokeDash": {"field": "type", "type": "nominal", "scale": {"domain": ["dual", "single", "psf"], "range": [[1, 0], [2, 3.3], [7.4, 3.2]]}, "legend": {"title": null, "symbolFillColor": "#22e622", "symbolStrokeColor": "#22e622"}}
           }},
          {"transform": [{"filter": "datum.type === 'dual'"}],
           "mark": {"type": "point", "shape": "circle", "filled": true, "opacity": 1, "size": 57, "color": "#22e622"},
           "encoding": {
            "x": {"field": "r", "type": "quantitative", "axis": {"orient": "top", "title": null, "labels": false, "values": [14,14.5,15,15.5,16,16.5,17,17.5,18,18.5,19,19.5,20,20.5,21,21.5,22,22.5,23], "encode": {"ticks": {"y2": {"value": {"expr": "datum.value % 2 === 0 ? 6 : 3"}}}}}},
            "y": {"field": "c", "type": "quantitative", "axis": {"orient": "right", "title": null, "labels": false, "values": [-0.05,0,0.05,0.1,0.15,0.2,0.25,0.3,0.35,0.4,0.45,0.5,0.55,0.6,0.65,0.7,0.75,0.8,0.85,0.9,0.95,1,1.05], "encode": {"ticks": {"x2": {"value": {"expr": "abs(datum.value * 5 - round(datum.value * 5)) < 0.001 ? -6 : -3"}}}}}}
           }},
          {"transform": [{"filter": "datum.type === 'single'"}],
           "mark": {"type": "point", "shape": "triangle-up", "filled": true, "opacity": 1, "size": 70, "color": "#22e622"},
           "encoding": {"x": {"field": "r", "type": "quantitative", "axis": null}, "y": {"field": "c", "type": "quantitative", "axis": null}}},
          {"transform": [{"filter": "datum.type === 'psf'"}],
           "mark": {"type": "point", "shape": "square", "filled": true, "opacity": 1, "size": 60, "color": "#22e622"},
           "encoding": {"x": {"field": "r", "type": "quantitative", "axis": null}, "y": {"field": "c", "type": "quantitative", "axis": null}}}
         ],
         "resolve": {"axis": {"x": "independent", "y": "independent"}}
        },
        {"width": 276, "height": 202, "title": "r",
         "transform": [{"filter": "datum.band === 'r'"}, {"flatten": ["r", "c"]}],
         "layer": [
          {"mark": {"type": "line", "color": "#ff6414", "strokeWidth": 2, "interpolate": "monotone"},
           "encoding": {
            "x": {"field": "r", "type": "quantitative", "scale": {"domain": [13.5, 23.5], "nice": false, "zero": false},
                  "axis": {"orient": "bottom", "title": null, "values": [14,14.5,15,15.5,16,16.5,17,17.5,18,18.5,19,19.5,20,20.5,21,21.5,22,22.5,23], "labelExpr": "datum.value % 2 === 0 ? format(datum.value, 'd') : ''", "encode": {"ticks": {"y2": {"value": {"expr": "datum.value % 2 === 0 ? -6 : -3"}}}}}},
            "y": {"field": "c", "type": "quantitative", "scale": {"domain": [-0.1, 1.1], "nice": false, "zero": false},
                  "axis": {"orient": "left", "title": null, "values": [-0.05,0,0.05,0.1,0.15,0.2,0.25,0.3,0.35,0.4,0.45,0.5,0.55,0.6,0.65,0.7,0.75,0.8,0.85,0.9,0.95,1,1.05], "labelExpr": "abs(datum.value * 5 - round(datum.value * 5)) < 0.001 ? format(datum.value, '.1f') : ''", "encode": {"ticks": {"x2": {"value": {"expr": "abs(datum.value * 5 - round(datum.value * 5)) < 0.001 ? 6 : 3"}}}}}},
            "strokeDash": {"field": "type", "type": "nominal", "scale": {"domain": ["dual", "single", "psf"], "range": [[1, 0], [2, 3.3], [7.4, 3.2]]}, "legend": {"title": null, "symbolFillColor": "#ff6414", "symbolStrokeColor": "#ff6414"}}
           }},
          {"mark": {"type": "point", "filled": true, "opacity": 0, "size": 1296, "strokeWidth": 2, "color": "#ff6414"},
           "encoding": {
            "x": {"field": "r", "type": "quantitative", "axis": null},
            "y": {"field": "c", "type": "quantitative", "axis": null},
            "shape": {"field": "type", "type": "nominal", "scale": {"domain": ["dual", "single", "psf"], "range": ["M-1,-0.056L-0.23,-0.056L-0.23,0.056L-1,0.056ZM0.23,-0.056L1,-0.056L1,0.056L0.23,0.056ZM0.24,0A0.24,0.24,0,1,1,-0.24,0A0.24,0.24,0,1,1,0.24,0Z", "M-1,-0.056L-0.889,-0.056L-0.889,0.056L-1,0.056ZM-0.706,-0.056L-0.595,-0.056L-0.595,0.056L-0.706,0.056ZM-0.412,-0.056L-0.301,-0.056L-0.301,0.056L-0.412,0.056ZM0.301,-0.056L0.412,-0.056L0.412,0.056L0.301,0.056ZM0.595,-0.056L0.706,-0.056L0.706,0.056L0.595,0.056ZM0.889,-0.056L1,-0.056L1,0.056L0.889,0.056ZM0,-0.28L0.27,0.17L-0.27,0.17Z", "M-1,-0.056L-0.33,-0.056L-0.33,0.056L-1,0.056ZM0.33,-0.056L1,-0.056L1,0.056L0.33,0.056ZM-0.22,-0.22L0.22,-0.22L0.22,0.22L-0.22,0.22Z"]}, "legend": {"title": null, "symbolFillColor": "#ff6414", "symbolStrokeColor": "#ff6414"}},
            "strokeDash": {"field": "type", "type": "nominal", "scale": {"domain": ["dual", "single", "psf"], "range": [[1, 0], [2, 3.3], [7.4, 3.2]]}, "legend": {"title": null, "symbolFillColor": "#ff6414", "symbolStrokeColor": "#ff6414"}}
           }},
          {"transform": [{"filter": "datum.type === 'dual'"}],
           "mark": {"type": "point", "shape": "circle", "filled": true, "opacity": 1, "size": 57, "color": "#ff6414"},
           "encoding": {
            "x": {"field": "r", "type": "quantitative", "axis": {"orient": "top", "title": null, "labels": false, "values": [14,14.5,15,15.5,16,16.5,17,17.5,18,18.5,19,19.5,20,20.5,21,21.5,22,22.5,23], "encode": {"ticks": {"y2": {"value": {"expr": "datum.value % 2 === 0 ? 6 : 3"}}}}}},
            "y": {"field": "c", "type": "quantitative", "axis": {"orient": "right", "title": null, "labels": false, "values": [-0.05,0,0.05,0.1,0.15,0.2,0.25,0.3,0.35,0.4,0.45,0.5,0.55,0.6,0.65,0.7,0.75,0.8,0.85,0.9,0.95,1,1.05], "encode": {"ticks": {"x2": {"value": {"expr": "abs(datum.value * 5 - round(datum.value * 5)) < 0.001 ? -6 : -3"}}}}}}
           }},
          {"transform": [{"filter": "datum.type === 'single'"}],
           "mark": {"type": "point", "shape": "triangle-up", "filled": true, "opacity": 1, "size": 70, "color": "#ff6414"},
           "encoding": {"x": {"field": "r", "type": "quantitative", "axis": null}, "y": {"field": "c", "type": "quantitative", "axis": null}}},
          {"transform": [{"filter": "datum.type === 'psf'"}],
           "mark": {"type": "point", "shape": "square", "filled": true, "opacity": 1, "size": 60, "color": "#ff6414"},
           "encoding": {"x": {"field": "r", "type": "quantitative", "axis": null}, "y": {"field": "c", "type": "quantitative", "axis": null}}}
         ],
         "resolve": {"axis": {"x": "independent", "y": "independent"}}
        }
      ]
    },
    {
      "spacing": 31,
      "resolve": {"scale": {"strokeDash": "independent", "shape": "independent"}},
      "hconcat": [
        {"width": 276, "height": 202, "title": "J0660",
         "transform": [{"filter": "datum.band === 'J0660'"}, {"flatten": ["r", "c"]}],
         "layer": [
          {"mark": {"type": "line", "color": "#f01414", "strokeWidth": 2, "interpolate": "monotone"},
           "encoding": {
            "x": {"field": "r", "type": "quantitative", "scale": {"domain": [13.5, 23.5], "nice": false, "zero": false},
                  "axis": {"orient": "bottom", "title": "r (petro)", "values": [14,14.5,15,15.5,16,16.5,17,17.5,18,18.5,19,19.5,20,20.5,21,21.5,22,22.5,23], "labelExpr": "datum.value % 2 === 0 ? format(datum.value, 'd') : ''", "encode": {"ticks": {"y2": {"value": {"expr": "datum.value % 2 === 0 ? -6 : -3"}}}}}},
            "y": {"field": "c", "type": "quantitative", "scale": {"domain": [-0.1, 1.1], "nice": false, "zero": false},
                  "axis": {"orient": "left", "title": "completeness", "values": [-0.05,0,0.05,0.1,0.15,0.2,0.25,0.3,0.35,0.4,0.45,0.5,0.55,0.6,0.65,0.7,0.75,0.8,0.85,0.9,0.95,1,1.05], "labelExpr": "abs(datum.value * 5 - round(datum.value * 5)) < 0.001 ? format(datum.value, '.1f') : ''", "encode": {"ticks": {"x2": {"value": {"expr": "abs(datum.value * 5 - round(datum.value * 5)) < 0.001 ? 6 : 3"}}}}}},
            "strokeDash": {"field": "type", "type": "nominal", "scale": {"domain": ["dual", "single", "psf"], "range": [[1, 0], [2, 3.3], [7.4, 3.2]]}, "legend": {"title": null, "symbolFillColor": "#f01414", "symbolStrokeColor": "#f01414"}}
           }},
          {"mark": {"type": "point", "filled": true, "opacity": 0, "size": 1296, "strokeWidth": 2, "color": "#f01414"},
           "encoding": {
            "x": {"field": "r", "type": "quantitative", "axis": null},
            "y": {"field": "c", "type": "quantitative", "axis": null},
            "shape": {"field": "type", "type": "nominal", "scale": {"domain": ["dual", "single", "psf"], "range": ["M-1,-0.056L-0.23,-0.056L-0.23,0.056L-1,0.056ZM0.23,-0.056L1,-0.056L1,0.056L0.23,0.056ZM0.24,0A0.24,0.24,0,1,1,-0.24,0A0.24,0.24,0,1,1,0.24,0Z", "M-1,-0.056L-0.889,-0.056L-0.889,0.056L-1,0.056ZM-0.706,-0.056L-0.595,-0.056L-0.595,0.056L-0.706,0.056ZM-0.412,-0.056L-0.301,-0.056L-0.301,0.056L-0.412,0.056ZM0.301,-0.056L0.412,-0.056L0.412,0.056L0.301,0.056ZM0.595,-0.056L0.706,-0.056L0.706,0.056L0.595,0.056ZM0.889,-0.056L1,-0.056L1,0.056L0.889,0.056ZM0,-0.28L0.27,0.17L-0.27,0.17Z", "M-1,-0.056L-0.33,-0.056L-0.33,0.056L-1,0.056ZM0.33,-0.056L1,-0.056L1,0.056L0.33,0.056ZM-0.22,-0.22L0.22,-0.22L0.22,0.22L-0.22,0.22Z"]}, "legend": {"title": null, "symbolFillColor": "#f01414", "symbolStrokeColor": "#f01414"}},
            "strokeDash": {"field": "type", "type": "nominal", "scale": {"domain": ["dual", "single", "psf"], "range": [[1, 0], [2, 3.3], [7.4, 3.2]]}, "legend": {"title": null, "symbolFillColor": "#f01414", "symbolStrokeColor": "#f01414"}}
           }},
          {"transform": [{"filter": "datum.type === 'dual'"}],
           "mark": {"type": "point", "shape": "circle", "filled": true, "opacity": 1, "size": 57, "color": "#f01414"},
           "encoding": {
            "x": {"field": "r", "type": "quantitative", "axis": {"orient": "top", "title": null, "labels": false, "values": [14,14.5,15,15.5,16,16.5,17,17.5,18,18.5,19,19.5,20,20.5,21,21.5,22,22.5,23], "encode": {"ticks": {"y2": {"value": {"expr": "datum.value % 2 === 0 ? 6 : 3"}}}}}},
            "y": {"field": "c", "type": "quantitative", "axis": {"orient": "right", "title": null, "labels": false, "values": [-0.05,0,0.05,0.1,0.15,0.2,0.25,0.3,0.35,0.4,0.45,0.5,0.55,0.6,0.65,0.7,0.75,0.8,0.85,0.9,0.95,1,1.05], "encode": {"ticks": {"x2": {"value": {"expr": "abs(datum.value * 5 - round(datum.value * 5)) < 0.001 ? -6 : -3"}}}}}}
           }},
          {"transform": [{"filter": "datum.type === 'single'"}],
           "mark": {"type": "point", "shape": "triangle-up", "filled": true, "opacity": 1, "size": 70, "color": "#f01414"},
           "encoding": {"x": {"field": "r", "type": "quantitative", "axis": null}, "y": {"field": "c", "type": "quantitative", "axis": null}}},
          {"transform": [{"filter": "datum.type === 'psf'"}],
           "mark": {"type": "point", "shape": "square", "filled": true, "opacity": 1, "size": 60, "color": "#f01414"},
           "encoding": {"x": {"field": "r", "type": "quantitative", "axis": null}, "y": {"field": "c", "type": "quantitative", "axis": null}}}
         ],
         "resolve": {"axis": {"x": "independent", "y": "independent"}}
        },
        {"width": 276, "height": 202, "title": "i",
         "transform": [{"filter": "datum.band === 'i'"}, {"flatten": ["r", "c"]}],
         "layer": [
          {"mark": {"type": "line", "color": "#cc0a0a", "strokeWidth": 2, "interpolate": "monotone"},
           "encoding": {
            "x": {"field": "r", "type": "quantitative", "scale": {"domain": [13.5, 23.5], "nice": false, "zero": false},
                  "axis": {"orient": "bottom", "title": "r (petro)", "values": [14,14.5,15,15.5,16,16.5,17,17.5,18,18.5,19,19.5,20,20.5,21,21.5,22,22.5,23], "labelExpr": "datum.value % 2 === 0 ? format(datum.value, 'd') : ''", "encode": {"ticks": {"y2": {"value": {"expr": "datum.value % 2 === 0 ? -6 : -3"}}}}}},
            "y": {"field": "c", "type": "quantitative", "scale": {"domain": [-0.1, 1.1], "nice": false, "zero": false},
                  "axis": {"orient": "left", "title": null, "values": [-0.05,0,0.05,0.1,0.15,0.2,0.25,0.3,0.35,0.4,0.45,0.5,0.55,0.6,0.65,0.7,0.75,0.8,0.85,0.9,0.95,1,1.05], "labelExpr": "abs(datum.value * 5 - round(datum.value * 5)) < 0.001 ? format(datum.value, '.1f') : ''", "encode": {"ticks": {"x2": {"value": {"expr": "abs(datum.value * 5 - round(datum.value * 5)) < 0.001 ? 6 : 3"}}}}}},
            "strokeDash": {"field": "type", "type": "nominal", "scale": {"domain": ["dual", "single", "psf"], "range": [[1, 0], [2, 3.3], [7.4, 3.2]]}, "legend": {"title": null, "symbolFillColor": "#cc0a0a", "symbolStrokeColor": "#cc0a0a"}}
           }},
          {"mark": {"type": "point", "filled": true, "opacity": 0, "size": 1296, "strokeWidth": 2, "color": "#cc0a0a"},
           "encoding": {
            "x": {"field": "r", "type": "quantitative", "axis": null},
            "y": {"field": "c", "type": "quantitative", "axis": null},
            "shape": {"field": "type", "type": "nominal", "scale": {"domain": ["dual", "single", "psf"], "range": ["M-1,-0.056L-0.23,-0.056L-0.23,0.056L-1,0.056ZM0.23,-0.056L1,-0.056L1,0.056L0.23,0.056ZM0.24,0A0.24,0.24,0,1,1,-0.24,0A0.24,0.24,0,1,1,0.24,0Z", "M-1,-0.056L-0.889,-0.056L-0.889,0.056L-1,0.056ZM-0.706,-0.056L-0.595,-0.056L-0.595,0.056L-0.706,0.056ZM-0.412,-0.056L-0.301,-0.056L-0.301,0.056L-0.412,0.056ZM0.301,-0.056L0.412,-0.056L0.412,0.056L0.301,0.056ZM0.595,-0.056L0.706,-0.056L0.706,0.056L0.595,0.056ZM0.889,-0.056L1,-0.056L1,0.056L0.889,0.056ZM0,-0.28L0.27,0.17L-0.27,0.17Z", "M-1,-0.056L-0.33,-0.056L-0.33,0.056L-1,0.056ZM0.33,-0.056L1,-0.056L1,0.056L0.33,0.056ZM-0.22,-0.22L0.22,-0.22L0.22,0.22L-0.22,0.22Z"]}, "legend": {"title": null, "symbolFillColor": "#cc0a0a", "symbolStrokeColor": "#cc0a0a"}},
            "strokeDash": {"field": "type", "type": "nominal", "scale": {"domain": ["dual", "single", "psf"], "range": [[1, 0], [2, 3.3], [7.4, 3.2]]}, "legend": {"title": null, "symbolFillColor": "#cc0a0a", "symbolStrokeColor": "#cc0a0a"}}
           }},
          {"transform": [{"filter": "datum.type === 'dual'"}],
           "mark": {"type": "point", "shape": "circle", "filled": true, "opacity": 1, "size": 57, "color": "#cc0a0a"},
           "encoding": {
            "x": {"field": "r", "type": "quantitative", "axis": {"orient": "top", "title": null, "labels": false, "values": [14,14.5,15,15.5,16,16.5,17,17.5,18,18.5,19,19.5,20,20.5,21,21.5,22,22.5,23], "encode": {"ticks": {"y2": {"value": {"expr": "datum.value % 2 === 0 ? 6 : 3"}}}}}},
            "y": {"field": "c", "type": "quantitative", "axis": {"orient": "right", "title": null, "labels": false, "values": [-0.05,0,0.05,0.1,0.15,0.2,0.25,0.3,0.35,0.4,0.45,0.5,0.55,0.6,0.65,0.7,0.75,0.8,0.85,0.9,0.95,1,1.05], "encode": {"ticks": {"x2": {"value": {"expr": "abs(datum.value * 5 - round(datum.value * 5)) < 0.001 ? -6 : -3"}}}}}}
           }},
          {"transform": [{"filter": "datum.type === 'single'"}],
           "mark": {"type": "point", "shape": "triangle-up", "filled": true, "opacity": 1, "size": 70, "color": "#cc0a0a"},
           "encoding": {"x": {"field": "r", "type": "quantitative", "axis": null}, "y": {"field": "c", "type": "quantitative", "axis": null}}},
          {"transform": [{"filter": "datum.type === 'psf'"}],
           "mark": {"type": "point", "shape": "square", "filled": true, "opacity": 1, "size": 60, "color": "#cc0a0a"},
           "encoding": {"x": {"field": "r", "type": "quantitative", "axis": null}, "y": {"field": "c", "type": "quantitative", "axis": null}}}
         ],
         "resolve": {"axis": {"x": "independent", "y": "independent"}}
        },
        {"width": 276, "height": 202, "title": "J0861",
         "transform": [{"filter": "datum.band === 'J0861'"}, {"flatten": ["r", "c"]}],
         "layer": [
          {"mark": {"type": "line", "color": "#bc0a0a", "strokeWidth": 2, "interpolate": "monotone"},
           "encoding": {
            "x": {"field": "r", "type": "quantitative", "scale": {"domain": [13.5, 23.5], "nice": false, "zero": false},
                  "axis": {"orient": "bottom", "title": "r (petro)", "values": [14,14.5,15,15.5,16,16.5,17,17.5,18,18.5,19,19.5,20,20.5,21,21.5,22,22.5,23], "labelExpr": "datum.value % 2 === 0 ? format(datum.value, 'd') : ''", "encode": {"ticks": {"y2": {"value": {"expr": "datum.value % 2 === 0 ? -6 : -3"}}}}}},
            "y": {"field": "c", "type": "quantitative", "scale": {"domain": [-0.1, 1.1], "nice": false, "zero": false},
                  "axis": {"orient": "left", "title": null, "values": [-0.05,0,0.05,0.1,0.15,0.2,0.25,0.3,0.35,0.4,0.45,0.5,0.55,0.6,0.65,0.7,0.75,0.8,0.85,0.9,0.95,1,1.05], "labelExpr": "abs(datum.value * 5 - round(datum.value * 5)) < 0.001 ? format(datum.value, '.1f') : ''", "encode": {"ticks": {"x2": {"value": {"expr": "abs(datum.value * 5 - round(datum.value * 5)) < 0.001 ? 6 : 3"}}}}}},
            "strokeDash": {"field": "type", "type": "nominal", "scale": {"domain": ["dual", "single", "psf"], "range": [[1, 0], [2, 3.3], [7.4, 3.2]]}, "legend": {"title": null, "symbolFillColor": "#bc0a0a", "symbolStrokeColor": "#bc0a0a"}}
           }},
          {"mark": {"type": "point", "filled": true, "opacity": 0, "size": 1296, "strokeWidth": 2, "color": "#bc0a0a"},
           "encoding": {
            "x": {"field": "r", "type": "quantitative", "axis": null},
            "y": {"field": "c", "type": "quantitative", "axis": null},
            "shape": {"field": "type", "type": "nominal", "scale": {"domain": ["dual", "single", "psf"], "range": ["M-1,-0.056L-0.23,-0.056L-0.23,0.056L-1,0.056ZM0.23,-0.056L1,-0.056L1,0.056L0.23,0.056ZM0.24,0A0.24,0.24,0,1,1,-0.24,0A0.24,0.24,0,1,1,0.24,0Z", "M-1,-0.056L-0.889,-0.056L-0.889,0.056L-1,0.056ZM-0.706,-0.056L-0.595,-0.056L-0.595,0.056L-0.706,0.056ZM-0.412,-0.056L-0.301,-0.056L-0.301,0.056L-0.412,0.056ZM0.301,-0.056L0.412,-0.056L0.412,0.056L0.301,0.056ZM0.595,-0.056L0.706,-0.056L0.706,0.056L0.595,0.056ZM0.889,-0.056L1,-0.056L1,0.056L0.889,0.056ZM0,-0.28L0.27,0.17L-0.27,0.17Z", "M-1,-0.056L-0.33,-0.056L-0.33,0.056L-1,0.056ZM0.33,-0.056L1,-0.056L1,0.056L0.33,0.056ZM-0.22,-0.22L0.22,-0.22L0.22,0.22L-0.22,0.22Z"]}, "legend": {"title": null, "symbolFillColor": "#bc0a0a", "symbolStrokeColor": "#bc0a0a"}},
            "strokeDash": {"field": "type", "type": "nominal", "scale": {"domain": ["dual", "single", "psf"], "range": [[1, 0], [2, 3.3], [7.4, 3.2]]}, "legend": {"title": null, "symbolFillColor": "#bc0a0a", "symbolStrokeColor": "#bc0a0a"}}
           }},
          {"transform": [{"filter": "datum.type === 'dual'"}],
           "mark": {"type": "point", "shape": "circle", "filled": true, "opacity": 1, "size": 57, "color": "#bc0a0a"},
           "encoding": {
            "x": {"field": "r", "type": "quantitative", "axis": {"orient": "top", "title": null, "labels": false, "values": [14,14.5,15,15.5,16,16.5,17,17.5,18,18.5,19,19.5,20,20.5,21,21.5,22,22.5,23], "encode": {"ticks": {"y2": {"value": {"expr": "datum.value % 2 === 0 ? 6 : 3"}}}}}},
            "y": {"field": "c", "type": "quantitative", "axis": {"orient": "right", "title": null, "labels": false, "values": [-0.05,0,0.05,0.1,0.15,0.2,0.25,0.3,0.35,0.4,0.45,0.5,0.55,0.6,0.65,0.7,0.75,0.8,0.85,0.9,0.95,1,1.05], "encode": {"ticks": {"x2": {"value": {"expr": "abs(datum.value * 5 - round(datum.value * 5)) < 0.001 ? -6 : -3"}}}}}}
           }},
          {"transform": [{"filter": "datum.type === 'single'"}],
           "mark": {"type": "point", "shape": "triangle-up", "filled": true, "opacity": 1, "size": 70, "color": "#bc0a0a"},
           "encoding": {"x": {"field": "r", "type": "quantitative", "axis": null}, "y": {"field": "c", "type": "quantitative", "axis": null}}},
          {"transform": [{"filter": "datum.type === 'psf'"}],
           "mark": {"type": "point", "shape": "square", "filled": true, "opacity": 1, "size": 60, "color": "#bc0a0a"},
           "encoding": {"x": {"field": "r", "type": "quantitative", "axis": null}, "y": {"field": "c", "type": "quantitative", "axis": null}}}
         ],
         "resolve": {"axis": {"x": "independent", "y": "independent"}}
        },
        {"width": 276, "height": 202, "title": "z",
         "transform": [{"filter": "datum.band === 'z'"}, {"flatten": ["r", "c"]}],
         "layer": [
          {"mark": {"type": "line", "color": "#a00a0a", "strokeWidth": 2, "interpolate": "monotone"},
           "encoding": {
            "x": {"field": "r", "type": "quantitative", "scale": {"domain": [13.5, 23.5], "nice": false, "zero": false},
                  "axis": {"orient": "bottom", "title": "r (petro)", "values": [14,14.5,15,15.5,16,16.5,17,17.5,18,18.5,19,19.5,20,20.5,21,21.5,22,22.5,23], "labelExpr": "datum.value % 2 === 0 ? format(datum.value, 'd') : ''", "encode": {"ticks": {"y2": {"value": {"expr": "datum.value % 2 === 0 ? -6 : -3"}}}}}},
            "y": {"field": "c", "type": "quantitative", "scale": {"domain": [-0.1, 1.1], "nice": false, "zero": false},
                  "axis": {"orient": "left", "title": null, "values": [-0.05,0,0.05,0.1,0.15,0.2,0.25,0.3,0.35,0.4,0.45,0.5,0.55,0.6,0.65,0.7,0.75,0.8,0.85,0.9,0.95,1,1.05], "labelExpr": "abs(datum.value * 5 - round(datum.value * 5)) < 0.001 ? format(datum.value, '.1f') : ''", "encode": {"ticks": {"x2": {"value": {"expr": "abs(datum.value * 5 - round(datum.value * 5)) < 0.001 ? 6 : 3"}}}}}},
            "strokeDash": {"field": "type", "type": "nominal", "scale": {"domain": ["dual", "single", "psf"], "range": [[1, 0], [2, 3.3], [7.4, 3.2]]}, "legend": {"title": null, "symbolFillColor": "#a00a0a", "symbolStrokeColor": "#a00a0a"}}
           }},
          {"mark": {"type": "point", "filled": true, "opacity": 0, "size": 1296, "strokeWidth": 2, "color": "#a00a0a"},
           "encoding": {
            "x": {"field": "r", "type": "quantitative", "axis": null},
            "y": {"field": "c", "type": "quantitative", "axis": null},
            "shape": {"field": "type", "type": "nominal", "scale": {"domain": ["dual", "single", "psf"], "range": ["M-1,-0.056L-0.23,-0.056L-0.23,0.056L-1,0.056ZM0.23,-0.056L1,-0.056L1,0.056L0.23,0.056ZM0.24,0A0.24,0.24,0,1,1,-0.24,0A0.24,0.24,0,1,1,0.24,0Z", "M-1,-0.056L-0.889,-0.056L-0.889,0.056L-1,0.056ZM-0.706,-0.056L-0.595,-0.056L-0.595,0.056L-0.706,0.056ZM-0.412,-0.056L-0.301,-0.056L-0.301,0.056L-0.412,0.056ZM0.301,-0.056L0.412,-0.056L0.412,0.056L0.301,0.056ZM0.595,-0.056L0.706,-0.056L0.706,0.056L0.595,0.056ZM0.889,-0.056L1,-0.056L1,0.056L0.889,0.056ZM0,-0.28L0.27,0.17L-0.27,0.17Z", "M-1,-0.056L-0.33,-0.056L-0.33,0.056L-1,0.056ZM0.33,-0.056L1,-0.056L1,0.056L0.33,0.056ZM-0.22,-0.22L0.22,-0.22L0.22,0.22L-0.22,0.22Z"]}, "legend": {"title": null, "symbolFillColor": "#a00a0a", "symbolStrokeColor": "#a00a0a"}},
            "strokeDash": {"field": "type", "type": "nominal", "scale": {"domain": ["dual", "single", "psf"], "range": [[1, 0], [2, 3.3], [7.4, 3.2]]}, "legend": {"title": null, "symbolFillColor": "#a00a0a", "symbolStrokeColor": "#a00a0a"}}
           }},
          {"transform": [{"filter": "datum.type === 'dual'"}],
           "mark": {"type": "point", "shape": "circle", "filled": true, "opacity": 1, "size": 57, "color": "#a00a0a"},
           "encoding": {
            "x": {"field": "r", "type": "quantitative", "axis": {"orient": "top", "title": null, "labels": false, "values": [14,14.5,15,15.5,16,16.5,17,17.5,18,18.5,19,19.5,20,20.5,21,21.5,22,22.5,23], "encode": {"ticks": {"y2": {"value": {"expr": "datum.value % 2 === 0 ? 6 : 3"}}}}}},
            "y": {"field": "c", "type": "quantitative", "axis": {"orient": "right", "title": null, "labels": false, "values": [-0.05,0,0.05,0.1,0.15,0.2,0.25,0.3,0.35,0.4,0.45,0.5,0.55,0.6,0.65,0.7,0.75,0.8,0.85,0.9,0.95,1,1.05], "encode": {"ticks": {"x2": {"value": {"expr": "abs(datum.value * 5 - round(datum.value * 5)) < 0.001 ? -6 : -3"}}}}}}
           }},
          {"transform": [{"filter": "datum.type === 'single'"}],
           "mark": {"type": "point", "shape": "triangle-up", "filled": true, "opacity": 1, "size": 70, "color": "#a00a0a"},
           "encoding": {"x": {"field": "r", "type": "quantitative", "axis": null}, "y": {"field": "c", "type": "quantitative", "axis": null}}},
          {"transform": [{"filter": "datum.type === 'psf'"}],
           "mark": {"type": "point", "shape": "square", "filled": true, "opacity": 1, "size": 60, "color": "#a00a0a"},
           "encoding": {"x": {"field": "r", "type": "quantitative", "axis": null}, "y": {"field": "c", "type": "quantitative", "axis": null}}}
         ],
         "resolve": {"axis": {"x": "independent", "y": "independent"}}
        }
      ]
    }
  ],
  "config": {
    "font": "Liberation Serif",
    "view": {"stroke": "#000000", "strokeWidth": 1.2},
    "axis": {
      "grid": false, "domain": false, "tickSize": 0, "tickColor": "#000000", "tickWidth": 1,
      "labelFont": "Liberation Serif", "labelFontSize": 13, "labelColor": "#000000", "labelOverlap": false, "labelFlush": false,
      "titleFont": "Liberation Serif", "titleFontSize": 25, "titleFontWeight": "normal", "titleColor": "#000000"
    },
    "axisX": {"labelPadding": 4, "titlePadding": 2},
    "axisY": {"labelPadding": 7, "titlePadding": 5},
    "title": {
      "font": "Liberation Serif", "fontSize": 20, "fontWeight": "normal", "color": "#000000",
      "orient": "top", "anchor": "start", "frame": "group", "offset": 0, "baseline": "alphabetic", "dx": 27, "dy": 102
    },
    "legend": {
      "orient": "bottom-left", "offset": 12, "padding": 0, "rowPadding": 0, "clipHeight": 23,
      "symbolSize": 1296, "symbolStrokeWidth": 2, "symbolOffset": 2, "symbolOpacity": 1, "labelOffset": 8,
      "labelFont": "Liberation Serif", "labelFontSize": 15.5, "labelColor": "#000000"
    }
  }
}
